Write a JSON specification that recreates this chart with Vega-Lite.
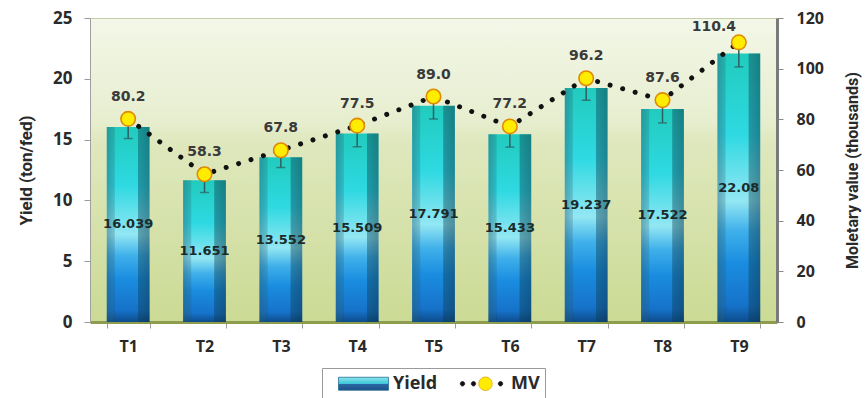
{
  "$schema": "https://vega.github.io/schema/vega-lite/v6.json",
  "width": 687,
  "height": 304,
  "autosize": {"type": "none"},
  "padding": {"left": 90, "top": 18, "right": 90, "bottom": 76},
  "data": {
    "values": [
      {"t": "T1", "yield": 16.039, "err": 0.95, "mv": 80.2},
      {"t": "T2", "yield": 11.651, "err": 1.0, "mv": 58.3},
      {"t": "T3", "yield": 13.552, "err": 0.85, "mv": 67.8},
      {"t": "T4", "yield": 15.509, "err": 1.1, "mv": 77.5},
      {"t": "T5", "yield": 17.791, "err": 1.1, "mv": 89.0},
      {"t": "T6", "yield": 15.433, "err": 1.05, "mv": 77.2},
      {"t": "T7", "yield": 19.237, "err": 1.0, "mv": 96.2},
      {"t": "T8", "yield": 17.522, "err": 1.15, "mv": 87.6},
      {"t": "T9", "yield": 22.08, "err": 1.1, "mv": 110.4}
    ]
  },
  "encoding": {
    "x": {
      "field": "t",
      "type": "nominal",
      "sort": null,
      "scale": {"paddingInner": 0.44, "paddingOuter": 0.22},
      "axis": {
        "title": null,
        "labelAngle": 0,
        "labelFont": "Open Sans",
        "labelFontSize": 16,
        "labelFontWeight": "bold",
        "labelColor": "#2a2a2a",
        "labelPadding": 10,
        "tickBand": "extent",
        "tickSize": 6,
        "tickColor": "#9a9a9a",
        "domainColor": "#8e9c50",
        "domainWidth": 3
      }
    }
  },
  "layer": [
    {
      "mark": {
        "type": "bar",
        "width": {"band": 1},
        "fill": {
          "gradient": "linear",
          "x1": 0, "y1": 0, "x2": 0, "y2": 1,
          "stops": [
            {"offset": 0, "color": "#21cbbd"},
            {"offset": 0.3, "color": "#2ed9e2"},
            {"offset": 0.55, "color": "#93e7f3"},
            {"offset": 0.66, "color": "#3fb0ea"},
            {"offset": 0.78, "color": "#1a8de0"},
            {"offset": 0.94, "color": "#1672c9"},
            {"offset": 1, "color": "#0d4c8c"}
          ]
        }
      },
      "encoding": {
        "y": {
          "field": "yield",
          "type": "quantitative",
          "scale": {"domain": [0, 25], "nice": false},
          "axis": {
            "orient": "left",
            "title": "Yield (ton/fed)",
            "values": [0, 5, 10, 15, 20, 25],
            "grid": false,
            "labelFont": "Open Sans",
            "labelFontSize": 17,
            "labelFontWeight": "bold",
            "labelColor": "#2a2a2a",
            "labelPadding": 12,
            "tickSize": 6,
            "tickColor": "#9a9a9a",
            "domainColor": "#a0a0a0",
            "titleFont": "Roboto",
            "titleFontSize": 17,
            "titleFontWeight": "bold",
            "titleColor": "#2a2a2a",
            "titlePadding": 17
          }
        }
      }
    },
    {
      "mark": {
        "type": "bar",
        "width": {"band": 1},
        "fill": {
          "gradient": "linear",
          "x1": 0, "y1": 0, "x2": 1, "y2": 0,
          "stops": [
            {"offset": 0, "color": "rgba(40,90,110,0.45)"},
            {"offset": 0.17, "color": "rgba(40,90,110,0.25)"},
            {"offset": 0.2, "color": "rgba(0,0,0,0)"},
            {"offset": 0.72, "color": "rgba(0,0,0,0)"},
            {"offset": 0.74, "color": "rgba(10,60,80,0.4)"},
            {"offset": 1, "color": "rgba(10,50,70,0.5)"}
          ]
        }
      },
      "encoding": {
        "y": {
          "field": "yield",
          "type": "quantitative",
          "scale": {"domain": [0, 25], "nice": false},
          "axis": null
        }
      }
    },
    {
      "mark": {"type": "errorbar", "ticks": {"size": 9}, "color": "#2e5e60", "thickness": 1.5},
      "encoding": {
        "y": {
          "field": "yield",
          "type": "quantitative",
          "scale": {"domain": [0, 25], "nice": false},
          "axis": null
        },
        "yError": {"field": "err"}
      }
    },
    {
      "mark": {
        "type": "text",
        "font": "DejaVu Sans",
        "fontSize": 13,
        "fontWeight": "bold",
        "color": "#1b2b2b",
        "baseline": "middle"
      },
      "encoding": {
        "y": {
          "field": "yield",
          "type": "quantitative",
          "scale": {"domain": [0, 50], "nice": false},
          "axis": null
        },
        "text": {"field": "yield", "type": "quantitative", "format": ".3~f"}
      }
    },
    {
      "mark": {
        "type": "line",
        "color": "#111111",
        "strokeWidth": 5,
        "strokeCap": "round",
        "strokeDash": [0.01, 13]
      },
      "encoding": {
        "y": {
          "field": "mv",
          "type": "quantitative",
          "scale": {"domain": [0, 120], "nice": false},
          "axis": {
            "orient": "right",
            "title": "Moletary value (thousands)",
            "titleAngle": 270,
            "values": [0, 20, 40, 60, 80, 100, 120],
            "grid": false,
            "labelFont": "Open Sans",
            "labelFontSize": 16,
            "labelFontWeight": "bold",
            "labelColor": "#2a2a2a",
            "labelPadding": 13,
            "tickSize": 6,
            "tickColor": "#8a8a8a",
            "domainColor": "#7a7a7a",
            "domainWidth": 3,
            "titleFont": "Roboto",
            "titleFontSize": 16,
            "titleFontWeight": "bold",
            "titleColor": "#2a2a2a",
            "titlePadding": 37
          }
        }
      }
    },
    {
      "mark": {
        "type": "point",
        "filled": true,
        "shape": "circle",
        "size": 210,
        "strokeWidth": 1.6
      },
      "encoding": {
        "y": {
          "field": "mv",
          "type": "quantitative",
          "scale": {"domain": [0, 120], "nice": false},
          "axis": null
        },
        "fill": {"field": "t", "type": "nominal", "scale": {"range": ["#ffec00"]}, "legend": null},
        "stroke": {"field": "t", "type": "nominal", "scale": {"range": ["#e08a00"]}, "legend": null},
        "opacity": {
          "datum": "MV",
          "type": "nominal",
          "scale": {"domain": ["Yield", "MV"], "range": [1, 1]},
          "legend": {
            "title": null,
            "orient": "bottom",
            "direction": "horizontal",
            "labelFont": "Open Sans",
            "labelFontSize": 18,
            "labelFontWeight": "bold",
            "labelColor": "#2a2a2a",
            "symbolSize": 400,
            "symbolType": {"expr": "datum.value === 'Yield' ? 'M0.1,-0.65H5.1V0.65H0.1Z' : 'M0.48,0A0.22,0.22 0 1,0 0.92,0A0.22,0.22 0 1,0 0.48,0ZM1.58,0A0.22,0.22 0 1,0 2.02,0A0.22,0.22 0 1,0 1.58,0ZM2.33,0A0.67,0.67 0 1,0 3.67,0A0.67,0.67 0 1,0 2.33,0ZM4.28,0A0.22,0.22 0 1,0 4.72,0A0.22,0.22 0 1,0 4.28,0Z'"},
            "symbolFillColor": {"expr": "datum.value === 'Yield' ? {gradient: 'linear', x1: 0, y1: 0, x2: 0, y2: 1, stops: [{offset: 0, color: '#8ae6ec'}, {offset: 0.5, color: '#3cc6da'}, {offset: 0.52, color: '#2a6aa6'}, {offset: 1, color: '#1d4f86'}]} : {gradient: 'linear', x1: 0, y1: 0, x2: 1, y2: 0, stops: [{offset: 0, color: '#111111'}, {offset: 0.39, color: '#111111'}, {offset: 0.4, color: '#ffec00'}, {offset: 0.8, color: '#ffec00'}, {offset: 0.82, color: '#111111'}, {offset: 1, color: '#111111'}]}"},
            "symbolStrokeColor": {"expr": "datum.value === 'Yield' ? '#2a6f95' : {gradient: 'linear', x1: 0, y1: 0, x2: 1, y2: 0, stops: [{offset: 0, color: '#111111'}, {offset: 0.39, color: '#111111'}, {offset: 0.4, color: '#e8a000'}, {offset: 0.8, color: '#e8a000'}, {offset: 0.82, color: '#111111'}, {offset: 1, color: '#111111'}]}"},
            "symbolStrokeWidth": 0.8,
            "symbolOpacity": 1,
            "columnPadding": 7,
            "labelOffset": 45,
            "padding": 5,
            "strokeColor": "#9a9a9a",
            "fillColor": "#ffffff",
            "offset": 14
          }
        }
      }
    },
    {
      "transform": [{"filter": "datum.t !== 'T9'"}],
      "mark": {
        "type": "text",
        "font": "DejaVu Sans",
        "fontSize": 14,
        "fontWeight": "bold",
        "color": "#3a3a3a",
        "baseline": "middle",
        "dy": -22
      },
      "encoding": {
        "y": {
          "field": "mv",
          "type": "quantitative",
          "scale": {"domain": [0, 120], "nice": false},
          "axis": null
        },
        "text": {"field": "mv", "type": "quantitative", "format": ".1f"}
      }
    },
    {
      "transform": [{"filter": "datum.t === 'T9'"}],
      "mark": {
        "type": "text",
        "font": "DejaVu Sans",
        "fontSize": 14,
        "fontWeight": "bold",
        "color": "#3a3a3a",
        "baseline": "middle",
        "dx": -25,
        "dy": -15
      },
      "encoding": {
        "y": {
          "field": "mv",
          "type": "quantitative",
          "scale": {"domain": [0, 120], "nice": false},
          "axis": null
        },
        "text": {"field": "mv", "type": "quantitative", "format": ".1f"}
      }
    }
  ],
  "resolve": {"scale": {"y": "independent"}},
  "config": {
    "view": {
      "stroke": "#c4cca8",
      "fill": {
        "gradient": "linear",
        "x1": 0, "y1": 0, "x2": 0, "y2": 1,
        "stops": [
          {"offset": 0, "color": "#f3f7e8"},
          {"offset": 0.34, "color": "#e7eecf"},
          {"offset": 0.4, "color": "#dfe8be"},
          {"offset": 1, "color": "#cbda94"}
        ]
      }
    },
    "legend": {"layout": {"bottom": {"anchor": "middle"}}}
  }
}
